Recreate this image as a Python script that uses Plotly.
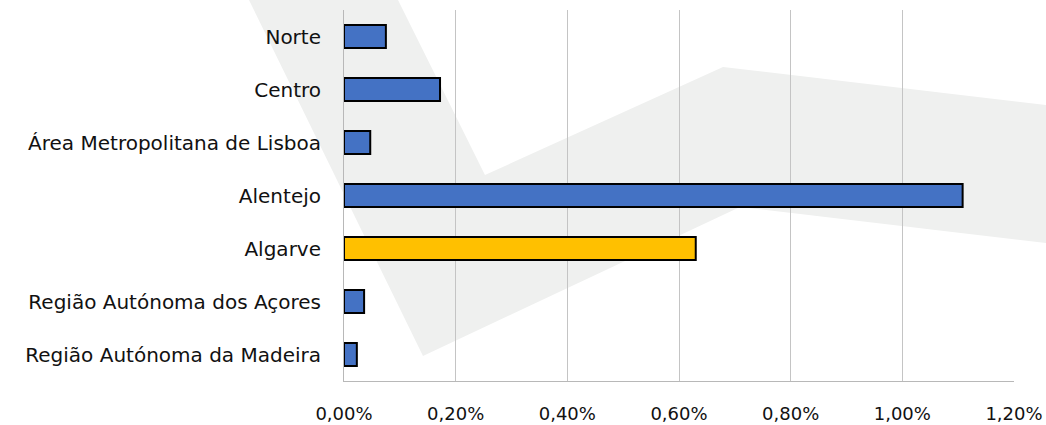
import plotly.graph_objects as go

# Regions (top to bottom) and their shares
regions = [
    "Norte",
    "Centro",
    "Área Metropolitana de Lisboa",
    "Alentejo",
    "Algarve",
    "Região Autónoma dos Açores",
    "Região Autónoma da Madeira",
]
shares = [0.00075, 0.00172, 0.00047, 0.01108, 0.0063, 0.00036, 0.00023]
highlight = "Algarve"

x_ticks = [0, 0.002, 0.004, 0.006, 0.008, 0.010, 0.012]

W, H = 1046, 425
ML, MR, MT, MB = 344, 32, 10, 44
PW, PH = W - ML - MR, H - MT - MB

colors = ["#ffc000" if r == highlight else "#4472c4" for r in regions]

fig = go.Figure(
    go.Bar(
        x=shares,
        y=regions,
        orientation="h",
        width=0.43,
        marker=dict(color=colors, line=dict(color="#000000", width=2)),
        hoverinfo="skip",
    )
)


def px_to_paper(pts):
    return [((x - ML) / PW, (H - MB - y) / PH) for x, y in pts]


# Light grey decorative chevron in the background
chevron = px_to_paper([
    (249, 0), (398, 0), (485, 175), (723, 67), (1046, 105),
    (1046, 243), (740, 207), (423, 356),
])
path = "M " + " L ".join(f"{x:.4f},{y:.4f}" for x, y in chevron) + " Z"

fig.add_shape(
    type="path", path=path, xref="paper", yref="paper",
    fillcolor="#eff0ef", line=dict(width=0), layer="below",
)

fig.update_layout(
    width=W, height=H,
    margin=dict(l=ML, r=MR, t=MT, b=MB, autoexpand=False),
    paper_bgcolor="#ffffff",
    plot_bgcolor="rgba(0,0,0,0)",
    separators=", ",
    showlegend=False,
    font=dict(family="DejaVu Sans", size=20, color="#111111"),
    bargap=0.57,
)

fig.update_xaxes(
    range=[0, 0.012],
    tickvals=x_ticks,
    tickformat=".2%",
    showgrid=True, gridcolor="#c4c4c4", gridwidth=1,
    showline=True, linecolor="#b8b8b8", linewidth=1,
    zeroline=False,
    ticks="", ticklabelstandoff=16,
    tickfont=dict(size=18),
    fixedrange=True,
)

fig.update_yaxes(
    categoryorder="array", categoryarray=regions[::-1],
    showgrid=False,
    showline=True, linecolor="#b8b8b8", linewidth=1,
    ticks="", ticklabelstandoff=18,
    tickfont=dict(size=20),
    fixedrange=True,
)

fig.write_html("out.html", config={"displayModeBar": False})
